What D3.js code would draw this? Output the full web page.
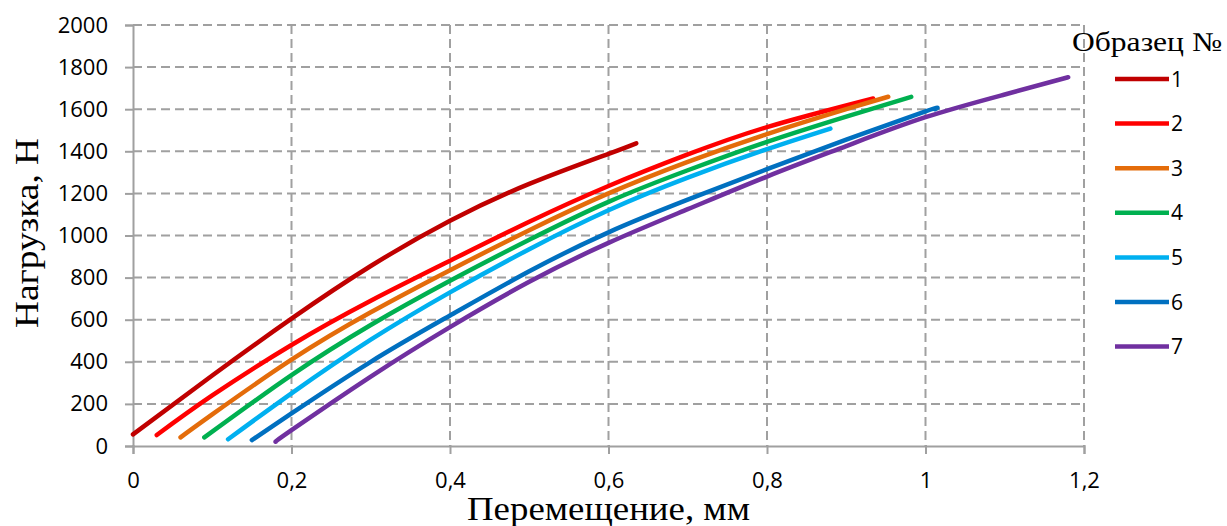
<!DOCTYPE html>
<html>
<head>
<meta charset="utf-8">
<script src="https://cdn.jsdelivr.net/npm/d3@7"></script>
<style>
  body { margin: 0; background: #fff; }
  svg { display: block; }
</style>
</head>
<body>
<svg id="chart" width="1227" height="526"></svg>
<script>
// series names (legend) and colours
var seriesNames = ['1', '2', '3', '4', '5', '6', '7'];
var seriesColors = ['#C00000', '#FF0000', '#E46C0A', '#00B050', '#00B0F0', '#0070C0', '#7030A0'];

// displacement (mm) / load (N) pairs
var s1 = [[0, 55], [0.1, 335], [0.2, 605], [0.3, 855], [0.4, 1070], [0.5, 1245], [0.6, 1388], [0.635, 1438]];
var s2 = [[0.03, 52], [0.1, 240], [0.2, 480], [0.3, 690], [0.4, 880], [0.5, 1065], [0.6, 1235], [0.7, 1385], [0.8, 1515], [0.934, 1651]];
var s3 = [[0.06, 41], [0.1, 150], [0.2, 410], [0.3, 635], [0.4, 835], [0.5, 1025], [0.6, 1200], [0.7, 1350], [0.8, 1482], [0.9, 1600], [0.953, 1659]];
var s4 = [[0.09, 41], [0.2, 337], [0.3, 575], [0.4, 785], [0.5, 980], [0.6, 1160], [0.7, 1310], [0.8, 1445], [0.9, 1565], [0.982, 1659]];
var s5 = [[0.12, 32], [0.2, 250], [0.3, 505], [0.4, 730], [0.5, 935], [0.6, 1120], [0.7, 1275], [0.8, 1410], [0.88, 1508]];
var s6 = [[0.15, 28], [0.2, 155], [0.3, 400], [0.4, 620], [0.5, 830], [0.6, 1015], [0.7, 1170], [0.8, 1315], [0.9, 1455], [1.0, 1590], [1.012, 1600]];
var s7 = [[0.18, 20], [0.2, 75], [0.3, 330], [0.4, 565], [0.5, 780], [0.6, 965], [0.7, 1125], [0.8, 1280], [0.9, 1425], [1.0, 1562], [1.1, 1670], [1.18, 1752]];
var allSeries = [s1, s2, s3, s4, s5, s6, s7];

// axis ticks
var xTicks = [0, 0.2, 0.4, 0.6, 0.8, 1, 1.2];
var yTicks = [0, 200, 400, 600, 800, 1000, 1200, 1400, 1600, 1800, 2000];

var xTitle = 'Перемещение, мм';
var yTitle = 'Нагрузка, Н';
var legendTitle = 'Образец №';

var plot = { left: 133, right: 1084, top: 25, bottom: 446 };
var gridColor = '#A0A0A0';
var tickFont = '"Open Sans", "Noto Sans", sans-serif';
var serifFont = '"Liberation Serif", "Times New Roman", serif';

var svg = d3.select('#chart');

var x = d3.scaleLinear().domain([0, 1.2]).range([plot.left, plot.right]);
var y = d3.scaleLinear().domain([0, 2000]).range([plot.bottom, plot.top]);

// dashed grid
var grid = svg.append('g').attr('class', 'grid');
grid.selectAll('.vgrid')
  .data(xTicks.filter(function (d) { return d > 0; }))
  .enter()
  .append('line')
  .attr('class', 'vgrid')
  .attr('x1', function (d) { return x(d); })
  .attr('x2', function (d) { return x(d); })
  .attr('y1', plot.top)
  .attr('y2', plot.bottom);
grid.selectAll('.hgrid')
  .data(yTicks.filter(function (d) { return d > 0; }))
  .enter()
  .append('line')
  .attr('class', 'hgrid')
  .attr('x1', plot.left)
  .attr('x2', plot.right)
  .attr('y1', function (d) { return y(d); })
  .attr('y2', function (d) { return y(d); });
grid.selectAll('line')
  .attr('stroke', gridColor)
  .attr('stroke-width', 2)
  .attr('stroke-dasharray', '9,5');

// axes
var fmtX = function (d) { return d === 0 ? '0' : String(d).replace('.', ','); };
var xAxis = svg.append('g')
  .attr('transform', 'translate(0,' + plot.bottom + ')')
  .call(d3.axisBottom(x).tickValues(xTicks).tickFormat(fmtX).tickSize(8).tickPadding(18));
var yAxis = svg.append('g')
  .attr('transform', 'translate(' + plot.left + ',0)')
  .call(d3.axisLeft(y).tickValues(yTicks).tickFormat(d3.format('d')).tickSize(8).tickPadding(17));

[xAxis, yAxis].forEach(function (ax) {
  ax.select('.domain').attr('stroke', gridColor).attr('stroke-width', 2);
  ax.selectAll('.tick line').attr('stroke', gridColor).attr('stroke-width', 2);
  ax.selectAll('.tick text')
    .attr('fill', '#000')
    .style('font-family', tickFont)
    .style('font-size', '22px');
});
// ticks cross the axis line
xAxis.selectAll('.tick line').attr('y1', -1);
yAxis.selectAll('.tick line').attr('x1', 1);

// series lines
var line = d3.line()
  .x(function (d) { return x(d[0]); })
  .y(function (d) { return y(d[1]); })
  .curve(d3.curveNatural);

svg.append('g')
  .selectAll('path')
  .data(allSeries)
  .enter()
  .append('path')
  .attr('d', line)
  .attr('fill', 'none')
  .attr('stroke', function (d, i) { return seriesColors[i]; })
  .attr('stroke-width', 4.5)
  .attr('stroke-linecap', 'round');

// axis titles
svg.append('text')
  .attr('x', 467)
  .attr('y', 520)
  .attr('textLength', 283)
  .attr('lengthAdjust', 'spacingAndGlyphs')
  .style('font-family', serifFont)
  .style('font-size', '33px')
  .text(xTitle);
svg.append('text')
  .attr('transform', 'translate(38,328) rotate(-90)')
  .attr('textLength', 190)
  .attr('lengthAdjust', 'spacingAndGlyphs')
  .style('font-family', serifFont)
  .style('font-size', '34px')
  .text(yTitle);

// legend
var legend = svg.append('g');
legend.append('text')
  .attr('x', 1072)
  .attr('y', 51)
  .attr('textLength', 150)
  .attr('lengthAdjust', 'spacingAndGlyphs')
  .style('font-family', serifFont)
  .style('font-size', '27px')
  .text(legendTitle);
var items = legend.selectAll('.item')
  .data(seriesNames)
  .enter()
  .append('g')
  .attr('class', 'item')
  .attr('transform', function (d, i) { return 'translate(0,' + (79 + i * 44.6) + ')'; });
items.append('line')
  .attr('x1', 1115)
  .attr('x2', 1169)
  .attr('stroke', function (d, i) { return seriesColors[i]; })
  .attr('stroke-width', 4.5);
items.append('text')
  .attr('x', 1171)
  .attr('dy', '0.36em')
  .style('font-family', tickFont)
  .style('font-size', '21px')
  .text(function (d) { return d; });
</script>
</body>
</html>
